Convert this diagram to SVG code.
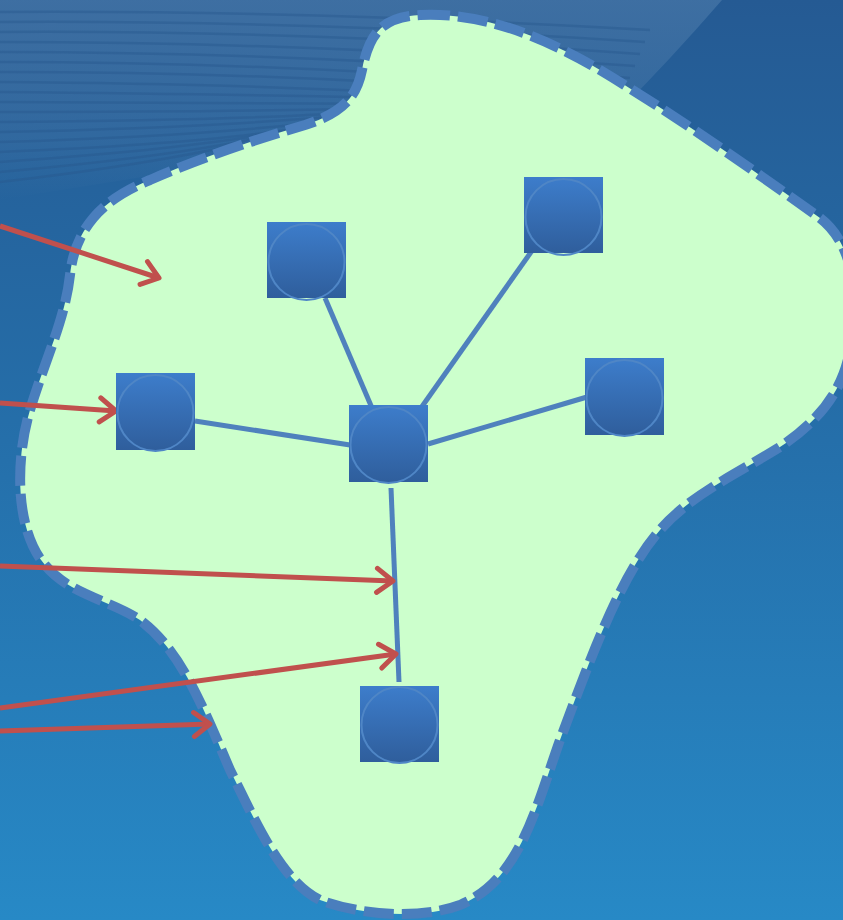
<svg xmlns="http://www.w3.org/2000/svg" width="843" height="920" viewBox="0 0 843 920">
<defs>
<linearGradient id="bg" x1="0" y1="0" x2="0" y2="1">
<stop offset="0" stop-color="#255a93"/>
<stop offset="0.5" stop-color="#2570ab"/>
<stop offset="1" stop-color="#2789c6"/>
</linearGradient>
<linearGradient id="glow" x1="0" y1="0" x2="0" y2="1">
<stop offset="0" stop-color="#4b7aaa" stop-opacity="0.65"/>
<stop offset="0.7" stop-color="#4b7aaa" stop-opacity="0.3"/>
<stop offset="1" stop-color="#4b7aaa" stop-opacity="0"/>
</linearGradient>
<linearGradient id="nodeg" x1="0" y1="0" x2="0" y2="1">
<stop offset="0" stop-color="#3d7dcb"/>
<stop offset="1" stop-color="#2f5e9c"/>
</linearGradient>
<marker id="arr" viewBox="0 0 24 30" refX="21" refY="15" markerWidth="24" markerHeight="30" markerUnits="userSpaceOnUse" orient="auto">
<path d="M5,3 L21,15 L5,27" fill="none" stroke="#c0504d" stroke-width="5" stroke-linecap="round" stroke-linejoin="round"/>
</marker>
</defs>
<style>
.wave{fill:none;stroke:#28598f;stroke-opacity:0.45;stroke-width:2.5}
.node rect{fill:url(#nodeg)}
.node circle{fill:none;stroke:#4f86c6;stroke-width:2}
.link{stroke:#4f81bd;stroke-width:5;fill:none}
.arrow{stroke:#c0504d;stroke-width:5;fill:none;marker-end:url(#arr)}
</style>
<rect x="0" y="0" width="843" height="920" fill="url(#bg)"/>
<path d="M0,0 L722,0 Q670,60 620,110 Q300,150 0,200 Z" fill="url(#glow)"/>
<g id="waves">
<path class="wave" d="M0,12 Q300,10 650,30"/>
<path class="wave" d="M0,22 Q300,20 645,42"/>
<path class="wave" d="M0,32 Q300,30 640,54"/>
<path class="wave" d="M0,42 Q300,42 635,66"/>
<path class="wave" d="M0,52 Q300,52 630,78"/>
<path class="wave" d="M0,62 Q300,62 625,90"/>
<path class="wave" d="M0,72 Q300,72 560,95"/>
<path class="wave" d="M0,82 Q300,84 520,100"/>
<path class="wave" d="M0,92 Q300,95 480,100"/>
<path class="wave" d="M0,102 Q250,104 420,104"/>
<path class="wave" d="M0,112 Q250,112 380,108"/>
<path class="wave" d="M0,122 Q250,120 360,112"/>
<path class="wave" d="M0,132 Q200,128 340,116"/>
<path class="wave" d="M0,142 Q200,136 320,122"/>
<path class="wave" d="M0,152 Q200,144 300,128"/>
<path class="wave" d="M0,162 Q180,150 280,132"/>
<path class="wave" d="M0,172 Q160,158 260,138"/>
<path class="wave" d="M0,182 Q140,166 240,144"/>
</g>
<g id="region">
<path d="M420,15 C480,12 540,35 600,70 C680,118 760,175 820,218 C855,245 860,300 850,350 C843,390 820,420 780,447 C740,472 690,495 660,530 C620,575 590,660 560,740 C535,810 520,880 460,905 C420,920 360,915 320,900 C280,880 255,820 230,770 C200,700 180,650 140,620 C110,600 70,595 45,565 C15,530 15,460 30,410 C45,360 65,320 70,275 C75,230 100,200 150,180 C200,158 260,138 305,125 C345,112 357,95 362,70 C370,30 385,17 420,15 Z" fill="#ccffcc" stroke="#4a7ebd" stroke-width="10" stroke-dasharray="30 8"/>
</g>
<g id="connectors">
<line class="link" x1="325" y1="298" x2="372" y2="408"/>
<line class="link" x1="536" y1="245" x2="416" y2="415"/>
<line class="link" x1="195" y1="421" x2="350" y2="445"/>
<line class="link" x1="587" y1="397" x2="428" y2="444"/>
<line class="link" x1="391" y1="488" x2="399" y2="682"/>
<line class="arrow" x1="0" y1="226" x2="159" y2="278"/>
<line class="arrow" x1="0" y1="403" x2="116" y2="411"/>
<line class="arrow" x1="0" y1="566" x2="393" y2="581"/>
<line class="arrow" x1="0" y1="708" x2="396" y2="654"/>
<line class="arrow" x1="0" y1="731" x2="210" y2="724"/>
</g>
<g id="node1" class="node"><rect x="267" y="222" width="79" height="76"/><circle cx="306.5" cy="262" r="38"/></g>
<g id="node2" class="node"><rect x="524" y="177" width="79" height="76"/><circle cx="563.5" cy="217" r="38"/></g>
<g id="node3" class="node"><rect x="116" y="373" width="79" height="77"/><circle cx="155.5" cy="413" r="38"/></g>
<g id="node4" class="node"><rect x="349" y="405" width="79" height="77"/><circle cx="388.5" cy="445" r="38"/></g>
<g id="node5" class="node"><rect x="585" y="358" width="79" height="77"/><circle cx="624.5" cy="398" r="38"/></g>
<g id="node6" class="node"><rect x="360" y="686" width="79" height="76"/><circle cx="399.5" cy="725" r="38"/></g>
</svg>
